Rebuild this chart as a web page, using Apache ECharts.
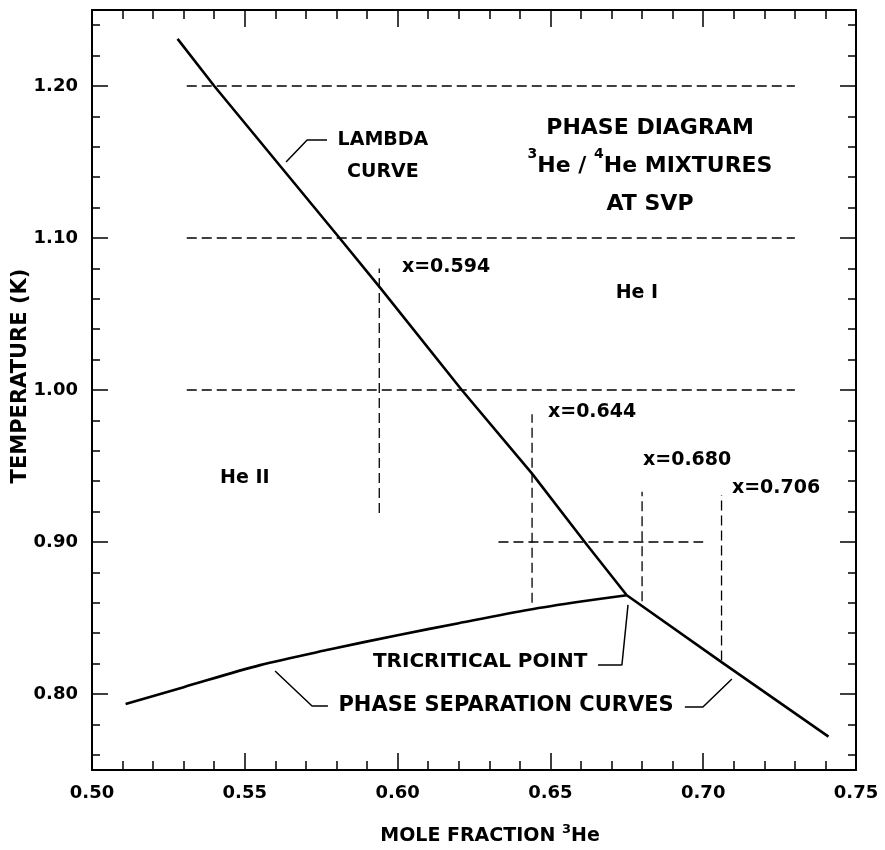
<!DOCTYPE html>
<html>
<head>
<meta charset="utf-8">
<script src="https://cdn.jsdelivr.net/npm/echarts@6/dist/echarts.min.js"></script>
<style>
  html, body { margin: 0; background: #fff; }
  #chart { width: 885px; height: 850px; }
</style>
</head>
<body>
<div id="chart"></div>
<script>
// lambda line, He II -> He I (mole fraction, K)
const lambdaX = [0.528, 0.540, 0.581, 0.594, 0.621, 0.644, 0.662, 0.675];
const lambdaT = [1.231, 1.200, 1.100, 1.068, 1.000, 0.945, 0.898, 0.865];

// phase separation curves, left and right of the tricritical point
const sepLeftX = [0.511, 0.530, 0.555, 0.578, 0.600, 0.620, 0.643, 0.660, 0.675];
const sepLeftT = [0.7934, 0.8045, 0.819, 0.8294, 0.8387, 0.8466, 0.8554, 0.8608, 0.865];
const sepRightX = [0.675, 0.706, 0.741];
const sepRightT = [0.865, 0.821, 0.772];

// dashed guide lines
const isoTemps = [1.20, 1.10, 1.00];
const isoFrom = 0.531, isoTo = 0.730;
const shortIso = { t: 0.90, from: 0.633, to: 0.700 };
const isoX = [0.594, 0.644, 0.680, 0.706];
const isoXlow = [0.919, 0.860, 0.861, 0.822];
const isoXhigh = [1.080, 0.984, 0.933, 0.931];

// axis ticks
const yLabels = [0.80, 0.90, 1.00, 1.10, 1.20];
const yMinor = [0.76, 0.78, 0.82, 0.84, 0.86, 0.88, 0.92, 0.94, 0.96, 0.98,
  1.02, 1.04, 1.06, 1.08, 1.12, 1.14, 1.16, 1.18, 1.22, 1.24];

// leader lines for the annotations
const leaders = [
  [[0.5635, 1.150], [0.5704, 1.1645], [0.5769, 1.1645]],
  [[0.6656, 0.8191], [0.6734, 0.8191], [0.6754, 0.8586]],
  [[0.5599, 0.8151], [0.5720, 0.7921], [0.5772, 0.7921]],
  [[0.6940, 0.7914], [0.6999, 0.7914], [0.7094, 0.8099]]
];

const notes = [
  { text: 'LAMBDA', at: [0.5952, 1.1645], align: 'center', size: 19 },
  { text: 'CURVE', at: [0.5952, 1.1434], align: 'center', size: 19 },
  { text: '{t|PHASE DIAGRAM}\n{s|3}{t|He / }{s|4}{t|He MIXTURES}\n{t|AT SVP}', at: [0.6826, 1.1474], align: 'center', big: true },
  { text: 'He I', at: [0.6783, 1.0638], align: 'center', size: 19 },
  { text: 'He II', at: [0.5500, 0.9420], align: 'center', size: 19 },
  { text: 'x=0.594', at: [0.6014, 1.0809], align: 'left', size: 19 },
  { text: 'x=0.644', at: [0.6492, 0.9855], align: 'left', size: 19 },
  { text: 'x=0.680', at: [0.6803, 0.9539], align: 'left', size: 19 },
  { text: 'x=0.706', at: [0.7094, 0.9355], align: 'left', size: 19 },
  { text: 'TRICRITICAL POINT', at: [0.6270, 0.8211], align: 'center', size: 20 },
  { text: 'PHASE SEPARATION CURVES', at: [0.6355, 0.7921], align: 'center', size: 21 }
];

const ink = '#000';
const font = 'DejaVu Sans';
const zip = (xs, ys) => xs.map((x, i) => [x, ys[i]]);

const dashed = { color: ink, width: 1.3, type: [10, 5] };
const guideSeries = [];
isoTemps.forEach((t) => guideSeries.push([[isoFrom, t], [isoTo, t]]));
guideSeries.push([[shortIso.from, shortIso.t], [shortIso.to, shortIso.t]]);
isoX.forEach((x, i) => guideSeries.push([[x, isoXlow[i]], [x, isoXhigh[i]]]));

function lineSeries(data, lineStyle, smooth) {
  return {
    type: 'line', data, symbol: 'none', smooth: smooth || false,
    lineStyle, silent: true, animation: false, z: 3
  };
}

const tickAxis = (pos, custom, len, line) => ({
  type: 'value', position: pos, min: 0.75, max: 1.25,
  axisLine: { show: line, lineStyle: { color: ink, width: 2 } },
  axisTick: { show: true, inside: true, length: len, customValues: custom, lineStyle: { color: ink, width: 1.5 } },
  axisLabel: { show: false },
  splitLine: { show: false }
});

const chart = echarts.init(document.getElementById('chart'), null, { renderer: 'canvas' });
chart.setOption({
  backgroundColor: '#fff',
  animation: false,
  textStyle: { fontFamily: font, color: ink },
  grid: { left: 92, right: 29, top: 10, bottom: 80, containLabel: false },
  xAxis: [0, 1].map((i) => ({
    type: 'value', position: i === 0 ? 'bottom' : 'top',
    min: 0.5, max: 0.75, interval: 0.05,
    axisLine: { show: true, lineStyle: { color: ink, width: 2 } },
    axisTick: { show: true, inside: true, length: 17, lineStyle: { color: ink, width: 1.5 } },
    minorTick: { show: true, splitNumber: 5, length: 9, lineStyle: { color: ink, width: 1.5 } },
    axisLabel: {
      show: i === 0, margin: 14, fontSize: 18, fontWeight: 'bold', color: ink, fontFamily: font,
      formatter: (v) => v.toFixed(2)
    },
    splitLine: { show: false }
  })),
  yAxis: [
    {
      type: 'value', position: 'left', min: 0.75, max: 1.25,
      axisLine: { show: true, lineStyle: { color: ink, width: 2 } },
      axisTick: { show: true, inside: true, length: 16, customValues: yLabels, lineStyle: { color: ink, width: 1.5 } },
      axisLabel: {
        show: true, customValues: yLabels, margin: 14, fontSize: 18, fontWeight: 'bold',
        color: ink, fontFamily: font, formatter: (v) => v.toFixed(2)
      },
      splitLine: { show: false }
    },
    tickAxis('left', yMinor, 8, false),
    tickAxis('right', yLabels, 16, true),
    tickAxis('right', yMinor, 8, false)
  ],
  graphic: [
    {
      type: 'text', x: 21, y: 376, rotation: Math.PI / 2,
      style: {
        text: 'TEMPERATURE (K)', fill: ink, align: 'center', verticalAlign: 'middle',
        fontSize: 21, fontWeight: 'bold', fontFamily: font
      }
    },
    {
      type: 'text', x: 490, y: 836,
      style: {
        text: '{t|MOLE FRACTION }{s|3}{t|He}', fill: ink, align: 'center', verticalAlign: 'middle',
        rich: {
          t: { fontSize: 19, fontWeight: 'bold', fontFamily: font, fill: ink, lineHeight: 26 },
          s: { fontSize: 13, fontWeight: 'bold', fontFamily: font, fill: ink, verticalAlign: 'top', lineHeight: 14 }
        }
      }
    }
  ],
  series: [
    lineSeries(zip(lambdaX, lambdaT), { color: ink, width: 2.6 }),
    lineSeries(zip(sepLeftX, sepLeftT), { color: ink, width: 2.6 }, 0.3),
    lineSeries(zip(sepRightX, sepRightT), { color: ink, width: 2.6 }),
    ...guideSeries.map((d) => lineSeries(d, dashed)),
    ...leaders.map((d) => lineSeries(d, { color: ink, width: 1.5 })),
    {
      type: 'scatter', symbolSize: 0, silent: true, z: 5,
      itemStyle: { opacity: 1 },
      data: notes.map((n) => ({
        value: n.at,
        label: {
          show: true, position: 'inside', align: n.align, verticalAlign: 'middle',
          formatter: n.text, color: ink, opacity: 1, fontFamily: font, fontWeight: 'bold',
          fontSize: n.size || 19,
          textBorderWidth: 0,
          lineHeight: n.big ? 38 : 22,
          rich: n.big ? {
            t: { fontSize: 22, fontWeight: 'bold', fontFamily: font, color: ink, lineHeight: 38 },
            s: { fontSize: 14, fontWeight: 'bold', fontFamily: font, color: ink, verticalAlign: 'top', lineHeight: 30 }
          } : undefined
        }
      }))
    }
  ]
});
window.addEventListener('resize', () => chart.resize());
</script>
</body>
</html>
